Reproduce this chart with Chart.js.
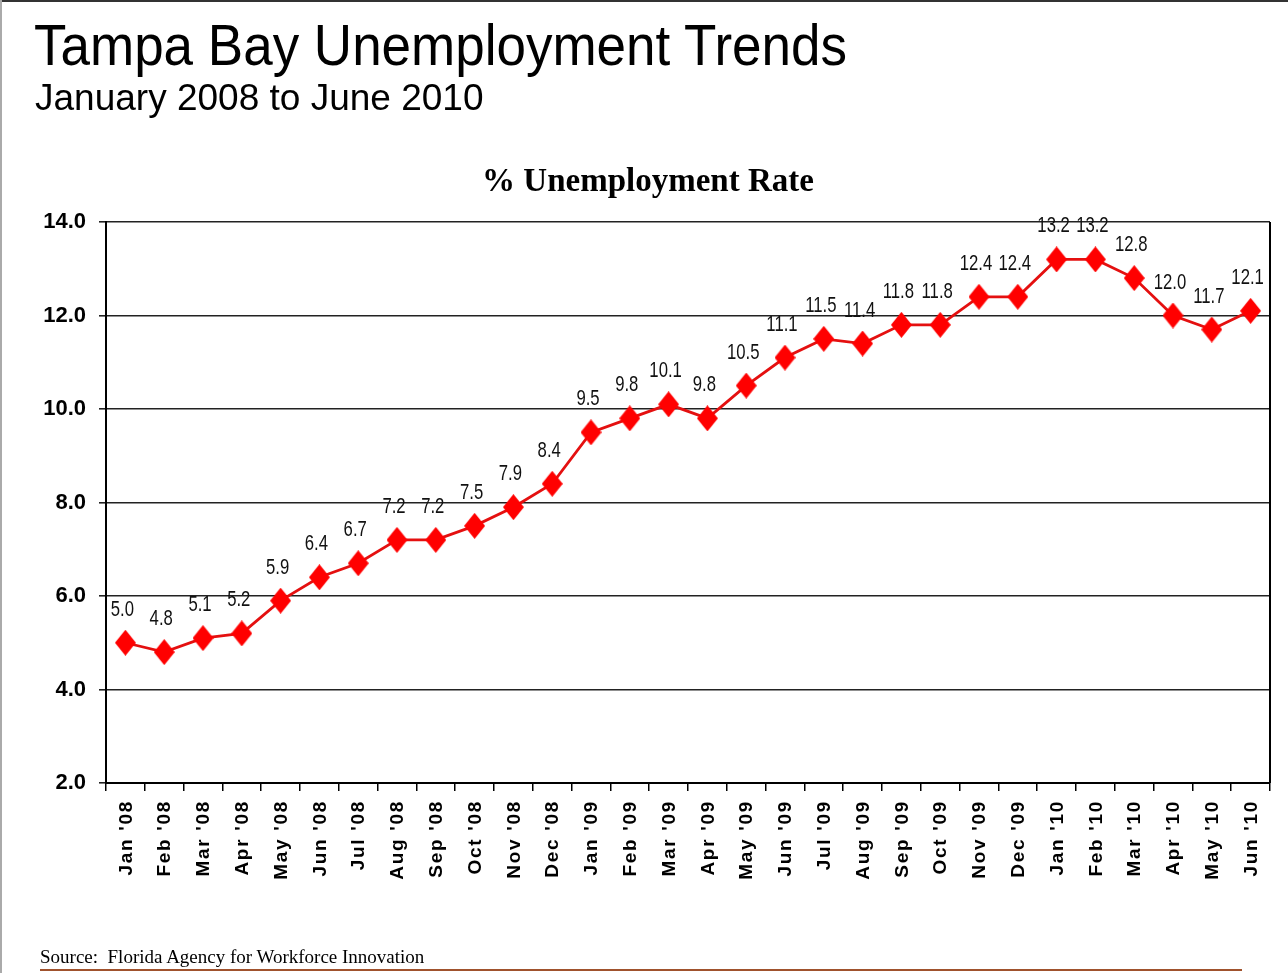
<!DOCTYPE html>
<html><head><meta charset="utf-8">
<script src="https://cdn.jsdelivr.net/npm/chart.js@4/dist/chart.umd.min.js"></script>
<style>
html,body{margin:0;padding:0;background:#fff;}
#wrap{position:relative;width:1288px;height:973px;overflow:hidden;background:#fff;}
#c{position:absolute;left:0;top:0;}
.t{position:absolute;white-space:nowrap;color:#000;}
.ln{position:absolute;}
</style></head><body>
<div id="wrap">
<canvas id="c" width="1288" height="973"></canvas>
<div class="t" style="left:34px;top:17px;font:53px/1 'Liberation Sans',Arial,sans-serif;transform:scaleY(1.07);transform-origin:0 0;">Tampa Bay Unemployment Trends</div>
<div class="t" style="left:35px;top:79px;font:37px/1 'Liberation Sans',Arial,sans-serif;">January 2008 to June 2010</div>
<div class="t" style="left:348px;width:600px;text-align:center;top:164px;font:bold 33px/1 'Liberation Serif','Times New Roman',serif;">% Unemployment Rate</div>
<div class="t" style="left:40px;top:947px;font:19px/1 'Liberation Serif','Times New Roman',serif;">Source:&nbsp; Florida Agency for Workforce Innovation</div>
<div class="ln" style="left:0;top:0;width:1288px;height:2px;background:#333;"></div>
<div class="ln" style="left:0;top:0;width:2px;height:973px;background:#aaa;"></div>
<div class="ln" style="left:40px;top:969px;width:1202px;height:2px;background:#a0522d;"></div>
</div>
<script>
const categories = ["Jan '08","Feb '08","Mar '08","Apr '08","May '08","Jun '08","Jul '08","Aug '08","Sep '08","Oct '08","Nov '08","Dec '08",
  "Jan '09","Feb '09","Mar '09","Apr '09","May '09","Jun '09","Jul '09","Aug '09","Sep '09","Oct '09","Nov '09","Dec '09",
  "Jan '10","Feb '10","Mar '10","Apr '10","May '10","Jun '10"];
const unemploymentRate = [5.0,4.8,5.1,5.2,5.9,6.4,6.7,7.2,7.2,7.5,7.9,8.4,
  9.5,9.8,10.1,9.8,10.5,11.1,11.5,11.4,11.8,11.8,12.4,12.4,
  13.2,13.2,12.8,12.0,11.7,12.1];
const yMin = 2.0, yMax = 14.0, yStep = 2.0;

function diamond(w, h, color) {
  const c = document.createElement('canvas');
  c.width = w; c.height = h;
  const g = c.getContext('2d');
  g.fillStyle = color;
  g.beginPath();
  g.moveTo(w/2, 0); g.lineTo(w, h/2); g.lineTo(w/2, h); g.lineTo(0, h/2);
  g.closePath(); g.fill();
  return c;
}
const marker = diamond(21, 26, '#ff0000');

const decor = {
  id: 'decor',
  afterDatasetsDraw(chart) {
    const ctx = chart.ctx, a = chart.chartArea;
    ctx.save();
    ctx.strokeStyle = '#000'; ctx.lineWidth = 2;
    ctx.beginPath(); ctx.moveTo(a.right, a.top); ctx.lineTo(a.right, a.bottom); ctx.stroke();
    ctx.restore();
    const meta = chart.getDatasetMeta(0);
    ctx.save();
    ctx.fillStyle = '#111';
    ctx.font = "22px 'Liberation Sans', Arial, sans-serif";
    ctx.textAlign = 'center'; ctx.textBaseline = 'middle';
    meta.data.forEach((el, i) => {
      ctx.save();
      ctx.translate(el.x - 3, el.y - 33);
      ctx.scale(0.76, 1);
      ctx.fillText(unemploymentRate[i].toFixed(1), 0, 0);
      ctx.restore();
    });
    ctx.restore();
    const xs = chart.scales.x;
    ctx.save();
    ctx.fillStyle = '#000';
    ctx.font = "bold 19px 'Liberation Sans', Arial, sans-serif";
    ctx.letterSpacing = '1.7px';
    ctx.textAlign = 'right'; ctx.textBaseline = 'middle';
    categories.forEach((lab, i) => {
      const x = xs.getPixelForValue(i);
      ctx.save();
      ctx.translate(x + 1, a.bottom + 17);
      ctx.rotate(-Math.PI / 2);
      ctx.fillText(lab, 0, 0);
      ctx.restore();
    });
    ctx.restore();
  }
};

new Chart(document.getElementById('c'), {
  type: 'line',
  data: {
    labels: categories,
    datasets: [{
      data: unemploymentRate,
      borderColor: '#e41010',
      borderWidth: 2.8,
      pointStyle: marker,
      pointRadius: 10,
      pointHoverRadius: 10,
      tension: 0,
      fill: false,
      clip: false
    }]
  },
  options: {
    responsive: false,
    animation: false,
    events: [],
    layout: { padding: { top: 222, left: 0, right: 18, bottom: 182 } },
    plugins: { legend: { display: false }, tooltip: { enabled: false }, title: { display: false } },
    scales: {
      x: {
        offset: true,
        grid: { display: true, drawOnChartArea: false, drawTicks: true, tickLength: 8, offset: true, color: '#000', lineWidth: 1.5 },
        border: { display: true, color: '#000', width: 2 },
        ticks: { display: false },
        afterFit(s) { s.height = 8; }
      },
      y: {
        min: yMin, max: yMax,
        grid: { color: '#222', lineWidth: 1.6, drawTicks: true, tickLength: 7 },
        border: { display: true, color: '#000', width: 2 },
        ticks: {
          stepSize: yStep,
          padding: 13,
          color: '#000',
          font: { family: "'Liberation Sans', Arial, sans-serif", size: 22, weight: 'bold' },
          callback: v => Number(v).toFixed(1)
        },
        afterFit(s) { s.width = 106; }
      }
    }
  },
  plugins: [decor]
});
</script>
</body></html>
